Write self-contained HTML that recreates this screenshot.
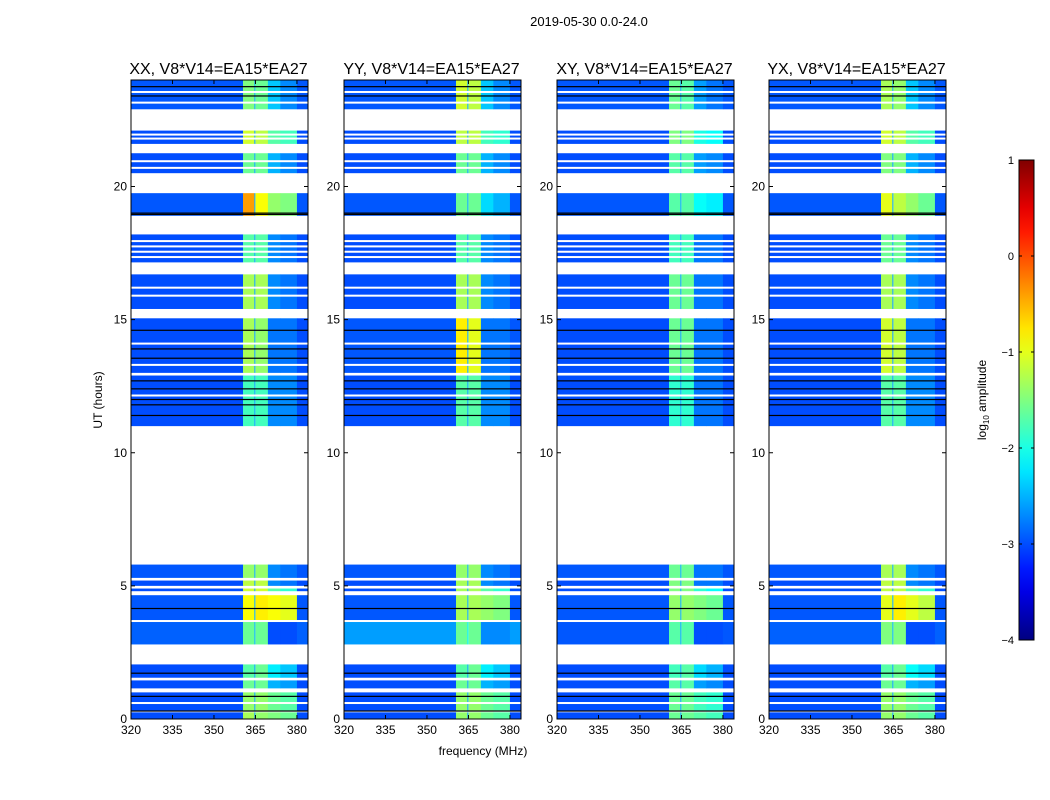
<!DOCTYPE html>
<html><head><meta charset="utf-8"><style>
html,body{margin:0;padding:0;background:#fff;}
svg{display:block;font-family:"Liberation Sans",sans-serif;}
</style></head><body>
<svg id="fig" width="1050" height="800" xmlns="http://www.w3.org/2000/svg">
<text x="589" y="26" font-size="13" text-anchor="middle">2019-05-30 0.0-24.0</text>
<text x="483" y="755" font-size="12" text-anchor="middle">frequency (MHz)</text>
<text transform="translate(102,400) rotate(-90)" font-size="12" text-anchor="middle">UT (hours)</text>
<g id="panels"></g>
<g id="cbar"></g>
</svg>
<script>
// ---- data ----
const panelTitles = ["XX, V8*V14=EA15*EA27","YY, V8*V14=EA15*EA27","XY, V8*V14=EA15*EA27","YX, V8*V14=EA15*EA27"];
const blockStart = [0.0,0.28,1.15,1.55,2.8,3.7,4.8,5.0,5.3,11.0,13.0,15.4,17.15,18.9,20.5,21.6,22.9];
const blockEnd   = [0.25,1.0,1.45,2.05,3.65,4.65,4.9,5.2,5.8,12.9,15.05,16.7,18.2,19.75,21.25,22.1,24.0];
const bandStart = [320,360.5,365,369.5,374,380];
const bandEnd   = [360.5,364.5,369.5,374,380,384];
// per panel: per block [bg, A, B, C, D] log10 amplitude
const levelsXX = [[-3.0,-1.3,-1.4,-1.5,-1.6],[-3.0,-1.4,-1.4,-1.6,-1.7],[-3.0,-1.6,-1.6,-2.5,-2.6],[-3.0,-1.7,-1.6,-2.2,-2.4],[-2.9,-1.6,-1.6,-3.0,-3.0],[-2.95,-0.9,-0.8,-0.9,-1.0],[-3.0,-1.1,-1.1,-1.7,-1.9],[-3.0,-1.2,-1.2,-2.7,-2.8],[-2.95,-1.4,-1.4,-2.7,-2.8],[-3.0,-1.8,-1.8,-2.7,-2.7],[-3.0,-1.3,-1.4,-2.8,-2.8],[-3.0,-1.3,-1.3,-2.7,-2.8],[-3.0,-1.7,-1.7,-2.7,-2.8],[-2.95,-0.4,-0.9,-1.4,-1.5],[-3.0,-1.6,-1.6,-2.5,-2.7],[-3.0,-1.1,-1.2,-1.7,-1.8],[-2.95,-1.5,-1.6,-2.4,-2.7]];
const levelsYY = [[-3.0,-1.4,-1.4,-1.6,-1.7],[-3.0,-1.4,-1.4,-1.6,-1.7],[-3.0,-1.6,-1.6,-2.5,-2.6],[-3.0,-1.7,-1.6,-2.2,-2.4],[-2.6,-1.6,-1.6,-2.7,-2.7],[-2.95,-1.3,-1.3,-1.4,-1.5],[-3.0,-1.3,-1.3,-1.7,-1.9],[-3.0,-1.3,-1.3,-2.7,-2.8],[-2.95,-1.4,-1.4,-2.7,-2.8],[-3.0,-1.7,-1.7,-2.7,-2.7],[-2.95,-0.8,-1.0,-2.8,-2.8],[-3.0,-1.3,-1.3,-2.7,-2.8],[-3.0,-1.7,-1.7,-2.7,-2.8],[-2.95,-1.6,-1.6,-2.3,-2.5],[-3.0,-1.6,-1.6,-2.5,-2.7],[-3.0,-1.2,-1.2,-1.8,-1.9],[-2.95,-1.1,-1.2,-2.4,-2.7]];
const levelsXY = [[-3.0,-1.6,-1.6,-1.7,-1.8],[-3.0,-1.6,-1.6,-1.8,-1.9],[-3.0,-1.7,-1.7,-2.6,-2.7],[-3.0,-1.8,-1.7,-2.3,-2.5],[-2.95,-1.7,-1.7,-3.0,-3.0],[-2.95,-1.4,-1.4,-1.5,-1.6],[-3.0,-1.5,-1.5,-1.9,-2.1],[-3.0,-1.5,-1.5,-2.8,-2.8],[-2.95,-1.6,-1.6,-2.8,-2.8],[-3.0,-1.9,-1.9,-2.8,-2.8],[-3.0,-1.6,-1.6,-2.8,-2.8],[-3.0,-1.6,-1.6,-2.8,-2.8],[-3.0,-1.8,-1.8,-2.8,-2.8],[-2.95,-1.7,-1.7,-2.1,-2.2],[-3.0,-1.7,-1.7,-2.6,-2.7],[-3.0,-1.5,-1.5,-2.0,-2.1],[-2.95,-1.6,-1.7,-2.6,-2.8]];
const levelsYX = [[-3.0,-1.4,-1.4,-1.6,-1.7],[-3.0,-1.4,-1.4,-1.6,-1.7],[-3.0,-1.6,-1.6,-2.5,-2.6],[-3.0,-1.7,-1.6,-2.1,-2.3],[-2.9,-1.5,-1.5,-3.0,-3.0],[-2.95,-1.0,-0.8,-1.0,-1.2],[-3.0,-1.2,-1.2,-1.7,-1.9],[-3.0,-1.2,-1.2,-2.7,-2.8],[-2.95,-1.3,-1.3,-2.7,-2.8],[-3.0,-1.7,-1.7,-2.7,-2.7],[-3.0,-1.1,-1.2,-2.8,-2.8],[-3.0,-1.3,-1.3,-2.7,-2.8],[-3.0,-1.6,-1.6,-2.7,-2.8],[-2.95,-1.0,-1.2,-1.4,-1.6],[-3.0,-1.5,-1.5,-2.5,-2.7],[-3.0,-1.1,-1.2,-1.7,-1.8],[-2.95,-1.3,-1.4,-2.4,-2.7]];
const panelLevels = [levelsXX, levelsYY, levelsXY, levelsYX];
const whiteLines = [0.6,1.1,1.5,3.68,4.95,12.15,13.3,14.1,15.2,15.9,16.2,17.35,17.55,17.75,17.95,20.7,20.95,21.8,21.95,23.15,23.55];
const blackLines = [0.3,0.85,1.72,4.15,11.4,11.8,12.0,12.4,12.7,13.55,13.9,14.6,18.95,19.0,23.4,23.75];
const xTicks = [320,335,350,365,380];
const yTicks = [0,5,10,15,20];
const cbTicks = [-4,-3,-2,-1,0,1];

// ---- geometry ----
const panelX = [131,344,557,769], PW = 177, PT = 80, PB = 719;
const fMin = 320, fMax = 384, hMin = 0, hMax = 24;
const NS = "http://www.w3.org/2000/svg";
function xs(f, i){ return panelX[i] + (f - fMin) / (fMax - fMin) * PW; }
function ys(h){ return PB - (h - hMin) / (hMax - hMin) * (PB - PT); }
function jet(v){
  let t = Math.max(0, Math.min(1, (v + 4) / 5));
  const c = k => Math.round(255 * Math.max(0, Math.min(1, 1.5 - Math.abs(4 * t - k))));
  return `rgb(${c(3)},${c(2)},${c(1)})`;
}
function el(tag, attrs, parent){
  const e = document.createElementNS(NS, tag);
  for (const k in attrs) e.setAttribute(k, attrs[k]);
  parent.appendChild(e); return e;
}
const panels = document.getElementById("panels");
for (let i = 0; i < 4; i++){
  const g = el("g", {}, panels);
  
  
  const lv = panelLevels[i];
  for (let b = 0; b < blockStart.length; b++){
    const y0 = ys(blockEnd[b]), y1 = ys(blockStart[b]);
    for (let k = 0; k < bandStart.length; k++){
      const li = k === 5 ? 0 : k;
      const r = el("rect", {x: xs(bandStart[k], i), y: y0, width: xs(bandEnd[k], i) - xs(bandStart[k], i) + 0.3, height: y1 - y0, fill: jet(lv[b][li])}, g);
      
      
    }
    [364.6].forEach(f => {
      const s = el("rect", {x: xs(f, i), y: y0, width: 1, height: y1 - y0, fill: jet(lv[b][0] + 0.4)}, g);
      
      
    });
  }
  whiteLines.forEach(h => {
    const l = el("rect", {x: panelX[i], y: ys(h) - 1, width: PW, height: 2, fill: "#fff"}, g);
    
    
  });
  blackLines.forEach(h => {
    const l = el("rect", {x: panelX[i], y: ys(h) - 0.6, width: PW, height: 1.2, fill: "#000"}, g);
    
    
  });
  const fr = el("rect", {x: panelX[i], y: PT, width: PW, height: PB - PT, fill: "none", stroke: "#000", "stroke-width": 1}, g);
  
  
  const t = el("text", {x: panelX[i] + PW/2 - 1, y: 74, "font-size": 16, "text-anchor": "middle"}, g);
  t.textContent = panelTitles[i];
  
  
  xTicks.forEach(f => {
    const x = xs(f, i);
    el("line", {x1: x, x2: x, y1: PB, y2: PB - 4, stroke: "#000"}, g);
    el("line", {x1: x, x2: x, y1: PT, y2: PT + 4, stroke: "#000"}, g);
    const tx = el("text", {x: x, y: PB + 15, "font-size": 12, "text-anchor": "middle"}, g);
    tx.textContent = f;
    
    
  });
  yTicks.forEach(h => {
    const y = ys(h);
    el("line", {x1: panelX[i], x2: panelX[i] + 4, y1: y, y2: y, stroke: "#000"}, g);
    el("line", {x1: panelX[i] + PW, x2: panelX[i] + PW - 4, y1: y, y2: y, stroke: "#000"}, g);
    const ty = el("text", {x: panelX[i] - 4, y: y + 4, "font-size": 12, "text-anchor": "end"}, g);
    ty.textContent = h;
    
    
  });
}
// ---- colorbar ----
const cb = document.getElementById("cbar");


const CX = 1019, CW = 15, CT = 160, CB = 640, cMin = -4, cMax = 1;
function cy(v){ return CB - (v - cMin) / (cMax - cMin) * (CB - CT); }
const defs = el("defs", {}, cb);
const grad = el("linearGradient", {id: "jetg", x1: 0, y1: 1, x2: 0, y2: 0}, defs);
for (let s = 0; s <= 20; s++){
  const v = cMin + s / 20 * (cMax - cMin);
  el("stop", {offset: s / 20, "stop-color": jet(v)}, grad);
}
const cbr = el("rect", {x: CX, y: CT, width: CW, height: CB - CT, fill: "url(#jetg)", stroke: "#000"}, cb);


cbTicks.forEach(v => {
  const y = cy(v);
  el("line", {x1: CX, x2: CX + 3, y1: y, y2: y, stroke: "#000"}, cb);
  el("line", {x1: CX + CW, x2: CX + CW - 3, y1: y, y2: y, stroke: "#000"}, cb);
  const t = el("text", {x: CX - 5, y: y + 4, "font-size": 11, "text-anchor": "end"}, cb);
  t.textContent = v < 0 ? "\u2212" + Math.abs(v) : String(v);
  
  
});
const ct = el("text", {transform: "translate(986,400) rotate(-90)", "font-size": 12, "text-anchor": "middle"}, cb);
ct.innerHTML = 'log<tspan font-size="8" dy="3">10</tspan><tspan dy="-3"> amplitude</tspan>';


</script>
</body></html>
